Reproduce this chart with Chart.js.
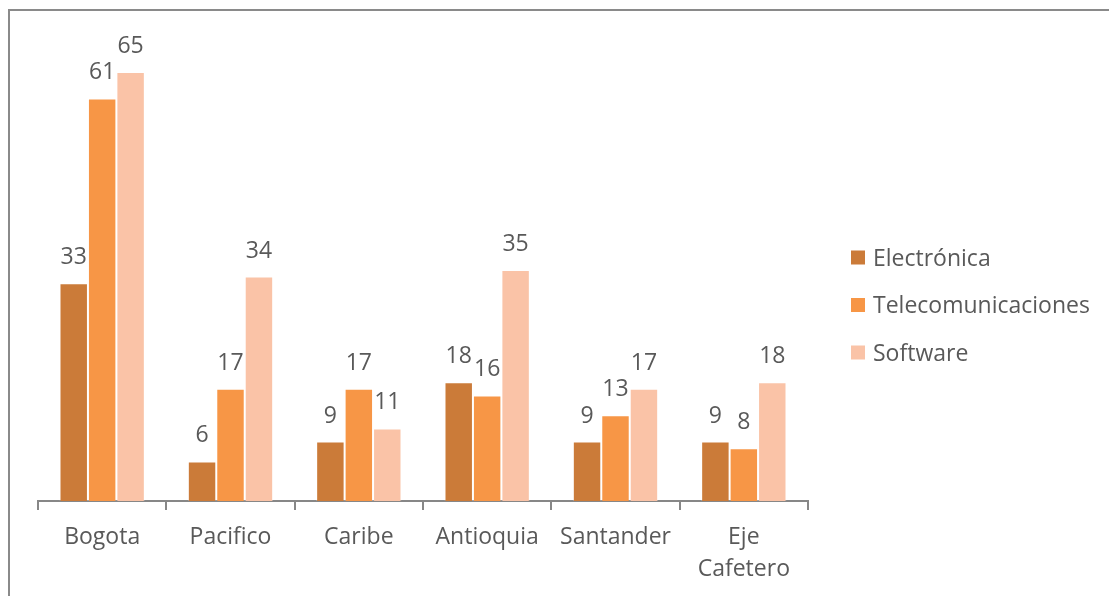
<!DOCTYPE html>
<html>
<head>
<meta charset="utf-8">
<script src="https://cdn.jsdelivr.net/npm/chart.js@4.4.1/dist/chart.umd.min.js"></script>
<style>
  html, body { margin: 0; padding: 0; background: #fff; }
  #wrap { position: relative; width: 1109px; height: 596px; overflow: hidden; }
  #frame {
    position: absolute; left: 8px; top: 9px; right: -10px; bottom: -10px;
    border-left: 2px solid #8a8a8a; border-top: 2px solid #8a8a8a;
  }
  #chart { position: absolute; left: 0; top: 0; }
</style>
</head>
<body>
<div id="wrap">
  <div id="frame"></div>
  <canvas id="chart" width="1109" height="596"></canvas>
</div>
<script>
const regions = ['Bogota', 'Pacifico', 'Caribe', 'Antioquia', 'Santander', ['Eje', 'Cafetero']];
const electronica = [33, 6, 9, 18, 9, 9];
const telecom = [61, 17, 17, 16, 13, 8];
const software = [65, 34, 11, 35, 17, 18];

const textColor = '#595959';
const fontFamily = "'Open Sans', sans-serif";
const fontSize = 23;

// numbers above each bar
const valueLabels = {
    id: 'valueLabels',
    afterDatasetsDraw(chart) {
        const ctx = chart.ctx;
        ctx.save();
        ctx.fillStyle = textColor;
        ctx.font = fontSize + 'px ' + fontFamily;
        ctx.textAlign = 'center';
        ctx.textBaseline = 'alphabetic';
        chart.data.datasets.forEach((ds, i) => {
            chart.getDatasetMeta(i).data.forEach((bar, j) => {
                ctx.fillText(ds.data[j], bar.x, bar.y - 19);
            });
        });
        ctx.restore();
    }
};

// legend to the right of the plot
const sideLegend = {
    id: 'sideLegend',
    afterDraw(chart) {
        const ctx = chart.ctx;
        ctx.save();
        ctx.font = fontSize + 'px ' + fontFamily;
        ctx.textBaseline = 'alphabetic';
        chart.data.datasets.forEach((ds, i) => {
            const y = 257.5 + i * 47.5;
            ctx.fillStyle = ds.backgroundColor;
            ctx.fillRect(851, y - 7, 14, 14);
            ctx.fillStyle = textColor;
            ctx.fillText(ds.label, 873, y + 8);
        });
        ctx.restore();
    }
};

const ctx = document.getElementById('chart').getContext('2d');

new Chart(ctx, {
    type: 'bar',
    data: {
        labels: regions,
        datasets: [
            { label: 'Electrónica', data: electronica, backgroundColor: '#CB7B39' },
            { label: 'Telecomunicaciones', data: telecom, backgroundColor: '#F79646' },
            { label: 'Software', data: software, backgroundColor: '#FAC3A7' }
        ]
    },
    options: {
        responsive: false,
        animation: false,
        layout: { padding: { left: 38, top: 39, right: 301, bottom: 0 } },
        datasets: {
            bar: {
                categoryPercentage: 0.665,
                barPercentage: 1,
                borderWidth: 1,
                borderColor: 'rgba(255,255,255,0.25)'
            }
        },
        plugins: {
            legend: { display: false },
            tooltip: { enabled: false }
        },
        scales: {
            y: { display: false, min: 0, max: 70 },
            x: {
                afterFit(scale) { scale.height = 95; },
                border: { color: '#878787', width: 2 },
                grid: {
                    drawOnChartArea: false,
                    drawTicks: true,
                    tickLength: 9,
                    color: '#878787',
                    lineWidth: 2
                },
                ticks: {
                    color: textColor,
                    padding: 11,
                    maxRotation: 0,
                    font: { family: fontFamily, size: fontSize, lineHeight: 1.4 }
                }
            }
        }
    },
    plugins: [valueLabels, sideLegend]
});
</script>
</body>
</html>
